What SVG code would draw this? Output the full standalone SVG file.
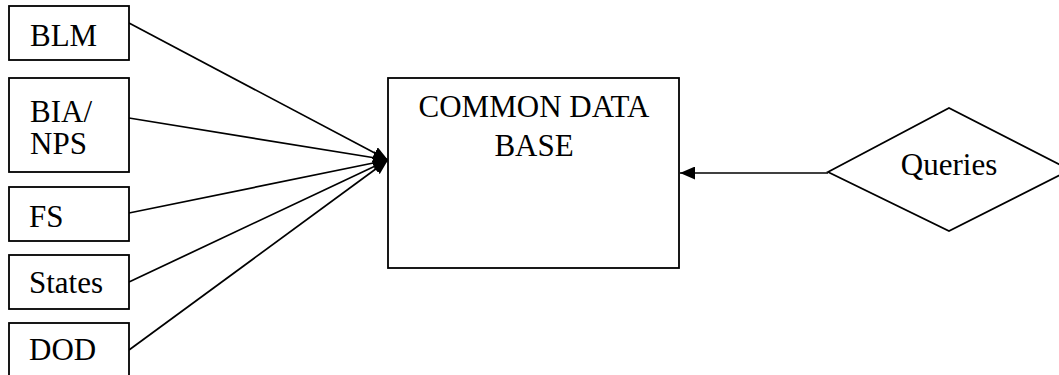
<svg xmlns="http://www.w3.org/2000/svg" width="1059" height="375" viewBox="0 0 1059 375">
<style>
  .box { fill: #fff; stroke: #000; stroke-width: 1.8; }
  .lbl { font-family: "Liberation Serif", "Times New Roman", serif; font-size: 31px; fill: #000; }
  .conn { stroke: #000; stroke-width: 1.7; fill: none; marker-end: url(#arr); }
</style>
<defs>
  <marker id="arr" markerUnits="userSpaceOnUse" markerWidth="16" markerHeight="13" refX="15" refY="6.5" orient="auto">
    <path d="M0,0 L15,6.5 L0,13 Z" fill="#000"/>
  </marker>
</defs>
<rect width="1059" height="375" fill="#fff"/>
<g id="connectors">
  <line class="conn" x1="129" y1="23" x2="388" y2="160"/>
  <line class="conn" x1="129" y1="118" x2="388" y2="160"/>
  <line class="conn" x1="129" y1="213" x2="388" y2="160"/>
  <line class="conn" x1="129" y1="282" x2="388" y2="160"/>
  <line class="conn" x1="129" y1="350" x2="388" y2="160"/>
  <line class="conn" x1="828" y1="173" x2="680" y2="173"/>
</g>
<g id="blm">
  <rect class="box" x="9" y="6" width="120" height="54"/>
  <text class="lbl" x="30" y="46">BLM</text>
</g>
<g id="bia-nps">
  <rect class="box" x="9" y="78" width="120" height="94"/>
  <text class="lbl" x="30" y="122">BIA/</text>
  <text class="lbl" x="30" y="154">NPS</text>
</g>
<g id="fs">
  <rect class="box" x="9" y="187" width="120" height="54"/>
  <text class="lbl" x="29" y="227">FS</text>
</g>
<g id="states">
  <rect class="box" x="9" y="255" width="120" height="54"/>
  <text class="lbl" x="29" y="293">States</text>
</g>
<g id="dod">
  <rect class="box" x="9" y="323" width="120" height="70"/>
  <text class="lbl" x="29" y="360">DOD</text>
</g>
<g id="common-data-base">
  <rect class="box" x="388" y="78" width="291" height="190"/>
  <text class="lbl" x="534" y="117" text-anchor="middle">COMMON DATA</text>
  <text class="lbl" x="534" y="156" text-anchor="middle">BASE</text>
</g>
<g id="queries">
  <polygon class="box" points="828,172 949,108 1070,170 949,231"/>
  <text class="lbl" x="949" y="175" text-anchor="middle">Queries</text>
</g>
</svg>
